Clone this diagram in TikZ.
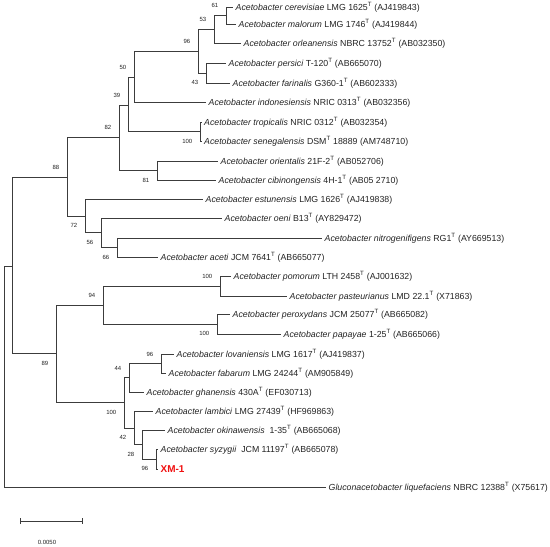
\documentclass[tikz,border=0pt]{standalone}
\usepackage{fontspec}
\setmainfont{Liberation Sans}
\usetikzlibrary{arrows.meta,positioning}
\definecolor{ink}{HTML}{222222}
\definecolor{branchgray}{HTML}{3C3C3C}
\definecolor{isolate}{HTML}{F01010}
\tikzset{
  branch/.style={draw=branchgray,line width=0.9bp},
  leaf/.style={anchor=west,font=\fontsize{8.8}{10}\selectfont,text=ink,
    inner xsep=2.5bp,inner ysep=0pt,text height=7.3bp,text depth=1bp},
  strain/.style={leaf,font=\fontsize{10}{12}\selectfont\bfseries,text=isolate,
    text height=8bp,text depth=0.8bp},
  boot/.style={font=\fontsize{6}{7}\selectfont,text=ink,inner sep=0pt,
    text height=4.3bp,text depth=0pt},
  scalelab/.style={font=\fontsize{6}{7}\selectfont,text=ink,inner sep=0pt},
}

\begin{document}
\begin{tikzpicture}[x=1bp,y=-1bp]
  \useasboundingbox (0,0) rectangle (550,547);
  % junctions of the tree
  \foreach \n/\x/\y in {r/4/377,nin/12/266,n88/67/177,n82/119/137,n39/128/105,
    n50/134/77,n96a/198/51,n53/214/29,n61/226/15.5,n43/206/73,n100a/200/131.5,
    n81/157/170.5,n72/85/216,n56/101/232.5,n66/117/247.5,n89/56/353.5,
    n94/103/305,n100b/220/286,n100c/217/324,n100d/124/402.5,n44/129/377.5,
    n96b/161/363.5,n42/134/428,n28/142/444.5,n96c/156/459}
    \coordinate (\n) at (\x,\y);
  % type strains
  \foreach \n/\x/\y/\sp/\st in {
    cer/233/7/cerevisiae/{LMG 1625\textsuperscript{T} (AJ419843)},
    mal/236/24/malorum/{LMG 1746\textsuperscript{T} (AJ419844)},
    orle/241/43/orleanensis/{NBRC 13752\textsuperscript{T} (AB032350)},
    pers/226/63/persici/{T-120\textsuperscript{T} (AB665070)},
    far/230/83/farinalis/{G360-1\textsuperscript{T} (AB602333)},
    indo/206/102/indonesiensis/{NRIC 0313\textsuperscript{T} (AB032356)},
    trop/201.5/122/tropicalis/{NRIC 0312\textsuperscript{T} (AB032354)},
    sene/201.5/141/senegalensis/{DSM\textsuperscript{T} 18889 (AM748710)},
    orie/218/161/orientalis/{21F-2\textsuperscript{T} (AB052706)},
    cibi/216/180/cibinongensis/{4H-1\textsuperscript{T} (AB05 2710)},
    estu/203/199/estunensis/{LMG 1626\textsuperscript{T} (AJ419838)},
    oeni/222/218/oeni/{B13\textsuperscript{T} (AY829472)},
    nitr/322/238/nitrogenifigens/{RG1\textsuperscript{T} (AY669513)},
    acet/158/257/aceti/{JCM 7641\textsuperscript{T} (AB665077)},
    pomo/231/276/pomorum/{LTH 2458\textsuperscript{T} (AJ001632)},
    past/287/296/pasteurianus/{LMD 22.1\textsuperscript{T} (X71863)},
    pero/230/314/peroxydans/{JCM 25077\textsuperscript{T} (AB665082)},
    papa/281/334/papayae/{1-25\textsuperscript{T} (AB665066)},
    lova/174/354/lovaniensis/{LMG 1617\textsuperscript{T} (AJ419837)},
    faba/166/373/fabarum/{LMG 24244\textsuperscript{T} (AM905849)},
    ghan/144/392/ghanensis/{430A\textsuperscript{T} (EF030713)},
    lamb/153/411/lambici/{LMG 27439\textsuperscript{T} (HF969863)},
    okin/165/430/okinawensis/{\ 1-35\textsuperscript{T} (AB665068)},
    syzy/158/449/syzygii/{\ JCM 11197\textsuperscript{T} (AB665078)}}
    \node[leaf] (\n) at (\x,\y) {\textit{Acetobacter \sp} \st};
  \node[strain] (xm) at (158,469) {XM-1};
  \node[leaf] (glu) at (326,487)
    {\textit{Gluconacetobacter liquefaciens} NBRC 12388\textsuperscript{T} (X75617)};
  % branches
  \foreach \p/\c in {r/nin,r/glu,nin/n88,nin/n89,n88/n82,n88/n72,n82/n39,n82/n81,
    n39/n50,n39/n100a,n50/n96a,n50/indo,n96a/n53,n96a/n43,n53/n61,n53/orle,
    n61/cer,n61/mal,n43/pers,n43/far,n100a/trop,n100a/sene,n81/orie,n81/cibi,
    n72/estu,n72/n56,n56/oeni,n56/n66,n66/nitr,n66/acet,n89/n94,n89/n100d,
    n94/n100b,n94/n100c,n100b/pomo,n100b/past,n100c/pero,n100c/papa,
    n100d/n44,n100d/n42,n44/n96b,n44/ghan,n96b/lova,n96b/faba,n42/lamb,
    n42/n28,n28/okin,n28/n96c,n96c/syzy,n96c/xm}
    \draw[branch] (\p) |- (\c);
  % bootstrap values
  \foreach \n/\v in {n61/61,n53/53,n96a/96,n50/50,n39/39,n82/82,n88/88,
    n100b/100,n94/94,n96b/96,n44/44}
    \node[boot,above left=7.3bp and 7.5bp of \n] (b\n) {\v};
  \foreach \n/\v in {n43/43,n100a/100,n81/81,n72/72,n56/56,n66/66,n100c/100,
    n89/89,n100d/100,n42/42,n28/28,n96c/96}
    \node[boot,below left=7.3bp and 7.5bp of \n] (b\n) {\v};
  % scale bar
  \coordinate (sbl) at (20,521);
  \coordinate (sbr) at (83,521);
  \draw[branch,{Bar[width=6bp]}-{Bar[width=6bp]}] (sbl) -- (sbr);
  \node[scalelab] (sblab) at (47,542) {0.0050};
\end{tikzpicture}
\end{document}
